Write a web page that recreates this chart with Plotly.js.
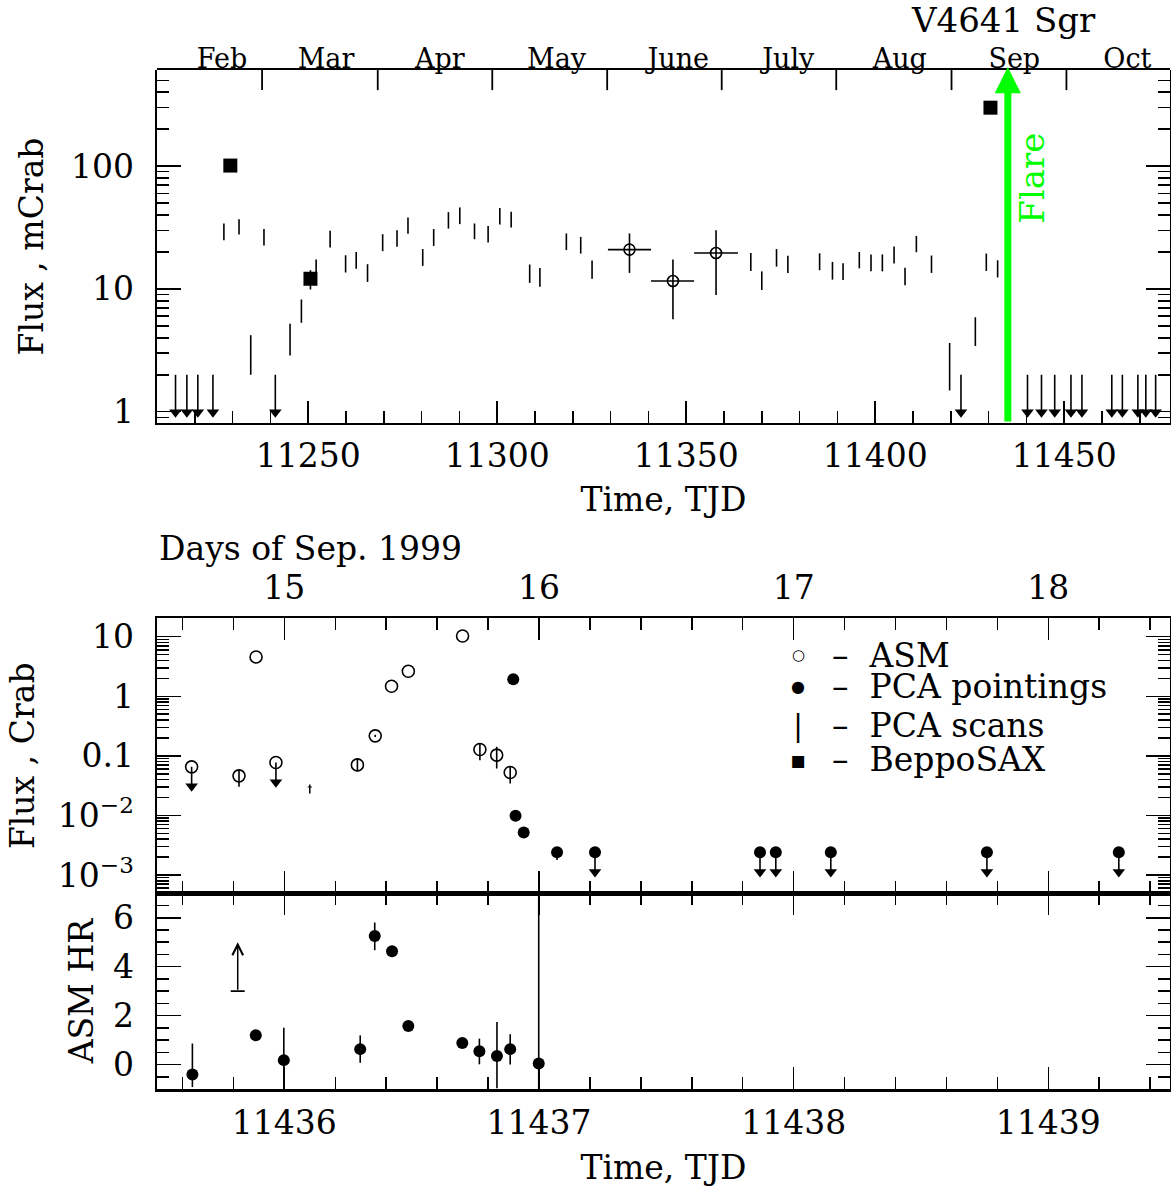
<!DOCTYPE html>
<html><head><meta charset="utf-8">
<script src="https://cdn.plot.ly/plotly-3.0.1.min.js"></script>
<style>body{margin:0;background:#fff}#chart{width:1171px;height:1187px}</style>
</head><body><div id="chart"></div>
<script>
// ===== Top panel: long-term light curve (TJD, mCrab) =====
const scanT  = [11227.7,11231.7,11234.8,11238.3,11245.2,11248.2,11252.1,11255.8,11259.9,11262.7,11265.7,11269.7,11273.5,11276.4,11280.3,11283.2,11287.1,11290.1,11294.0,11297.6,11300.7,11303.7,11308.6,11311.3,11318.3,11322.1,11325.1,11367.1,11370.0,11373.9,11376.9,11385.3,11388.7,11391.5,11395.8,11398.9,11401.9,11405.0,11407.9,11410.9,11414.9,11419.7,11426.5,11429.4,11432.4];
const scanHi = [34.1,37.0,4.2,30.7,5.2,8.2,17.4,29.7,18.8,20.0,15.9,27.9,30.1,38.2,21.1,30.7,42.2,46.1,34.1,32.6,45.5,42.4,15.8,14.8,28.3,26.5,17.0,19.6,13.9,21.1,18.6,19.5,16.6,16.2,20.0,19.1,19.1,22.2,14.9,27.0,18.7,3.63,5.88,19.4,17.1];
const scanLo = [24.9,27.8,2.0,22.6,2.87,5.3,11.9,21.7,13.6,14.6,11.4,20.3,22.0,28.1,15.4,22.4,31.0,33.7,25.4,23.9,33.5,31.7,11.2,10.4,20.7,19.4,12.1,14.0,9.8,15.2,13.5,14.2,11.9,11.8,14.7,13.9,13.9,16.1,10.7,19.9,13.5,1.49,3.43,14.0,12.4];
const saxT  = [11229.4, 11250.6, 11430.5];
const saxF  = [101, 12.1, 299];
const saxHi = [104, 14.2, 305];
const saxLo = [91, 9.9, 292];
const asmT   = [11335.0, 11346.5, 11357.9];
const asmF   = [20.9, 11.6, 19.6];
const asmHi  = [28.3, 17.4, 30.1];
const asmLo  = [13.5, 5.66, 8.93];
const asmTlo = [11329.3, 11340.7, 11352.1];
const asmThi = [11340.7, 11352.1, 11363.7];
const ulT   = [11214.9,11217.9,11220.8,11224.8,11241.3,11422.7,11440.3,11444.0,11447.5,11451.8,11454.7,11462.6,11465.4,11469.5,11471.6,11474.2];
const ulF   = [2.0,2.0,2.0,2.0,2.0,2.0,2.0,2.0,2.0,2.0,2.0,2.0,2.0,2.0,2.0,2.0];
const ulTip = [0.99,0.99,0.99,0.99,0.99,0.99,0.99,0.99,0.99,0.99,0.99,0.99,0.99,0.99,0.99,0.99];
const flareT = 11435.1, flareFrom = 0.81, flareTo = 640, flareLabelT = 11441.4, flareLabelF = 80;
const months    = ['Feb','Mar','Apr','May','June','July','Aug','Sep','Oct'];
const monthMid  = [11227.2,11254.7,11284.8,11315.7,11347.9,11377.0,11406.5,11436.8,11466.7];
const monthEdge = [11237.8,11268.4,11298.7,11329.1,11359.4,11389.7,11420.2,11450.6];

// ===== Middle panel: flare (TJD, Crab) =====
const mAsmT  = [11435.822,11435.889,11436.287,11436.357,11436.421,11436.487,11436.700,11436.768,11436.834,11436.887];
const mAsmF  = [0.0462,4.58,0.0706,0.217,1.476,2.64,10.3,0.128,0.103,0.0526];
const mAsmHi = [0.0598,4.58,0.0904,0.226,1.476,2.64,10.3,0.165,0.1416,0.0672];
const mAsmLo = [0.0302,4.58,0.0553,0.208,1.476,2.64,10.3,0.0847,0.0615,0.0344];
const mAsmUlT   = [11435.636, 11435.967];
const mAsmUlF   = [0.0654, 0.0775];
const mAsmUlTip = [0.031, 0.0362];
const pcaT  = [11436.899,11436.908,11436.940,11437.071];
const pcaF  = [1.94,0.00985,0.00519,0.00242];
const pcaHi = [1.94,0.00985,0.00519,0.00262];
const pcaLo = [1.94,0.00985,0.00519,0.00178];
const pcaUlT   = [11437.220,11437.868,11437.930,11438.146,11438.759,11439.277];
const pcaUlF   = [0.0024,0.0024,0.0024,0.0024,0.0024,0.0024];
const pcaUlTip = [0.00112,0.00112,0.00112,0.00112,0.00112,0.00112];
const mScanT = [11436.10], mScanF = [0.0300], mScanHi = [0.0331], mScanLo = [0.0234], mScanTerr = [0.008];
const dayT = [11436, 11437, 11438, 11439];
const dayLabels = ['15','16','17','18'];

// ===== Bottom panel: ASM hardness ratio =====
const hrT  = [11435.639,11435.888,11435.998,11436.298,11436.355,11436.423,11436.487,11436.699,11436.766,11436.835,11436.887,11436.999];
const hrV  = [-0.41,1.20,0.18,0.63,5.25,4.63,1.58,0.88,0.54,0.35,0.63,0.04];
const hrHi = [0.86,1.20,1.50,1.19,5.81,4.63,1.58,0.88,1.06,1.74,1.24,12];
const hrLo = [-0.92,1.20,-1.2,0.07,4.67,4.63,1.58,0.88,0.01,-0.97,0.0,-12];
const hrLimT = 11435.817, hrLimFrom = 3.0, hrLimTo = 5.0;

// legend labels
const legendSymbols = ['\u25CB','\u25CF','|','\u25AA'];
const legendNames = ['ASM','PCA pointings','PCA scans','BeppoSAX'];

const FONT = 'DejaVu Serif';
const sub = (a,b)=>a.map((v,i)=>v-b[i]);
const zeros = n => new Array(n).fill(0);
const scanMid = scanT.map((t,i)=>Math.sqrt(scanHi[i]*scanLo[i]));
const clear = 'rgba(0,0,0,0)';
const eb = (plus, minus, w, th) => ({type:'data', symmetric:false, array:plus, arrayminus:minus, width:w||0, thickness:th||1.6, color:'black'});

const traces = [
  // top
  {x:scanT, y:scanMid, xaxis:'x', yaxis:'y', mode:'markers', marker:{size:1,color:clear},
   error_y: eb(sub(scanHi,scanMid), sub(scanMid,scanLo))},
  {x:asmT, y:asmF, xaxis:'x', yaxis:'y', mode:'markers',
   marker:{symbol:'circle-open', size:11, color:'black', line:{width:1.6,color:'black'}},
   error_y: eb(sub(asmHi,asmF), sub(asmF,asmLo)), error_x: eb(sub(asmThi,asmT), sub(asmT,asmTlo))},
  {x:saxT, y:saxF, xaxis:'x', yaxis:'y', mode:'markers', marker:{symbol:'square', size:14, color:'black'},
   error_y: eb(sub(saxHi,saxF), sub(saxF,saxLo))},
  {x:ulT, y:ulF, xaxis:'x', yaxis:'y', mode:'markers', marker:{size:1,color:clear},
   error_y: eb(zeros(ulT.length), sub(ulF,ulTip))},
  {x:ulT, y:ulTip, xaxis:'x', yaxis:'y', mode:'markers', marker:{symbol:'triangle-down', size:11, color:'black'}},
  // middle
  {x:mScanT, y:mScanF, xaxis:'x2', yaxis:'y2', mode:'markers', marker:{size:1,color:clear},
   error_y: eb(sub(mScanHi,mScanF), sub(mScanF,mScanLo), 0, 1.5), error_x: eb(mScanTerr, mScanTerr, 0, 1.2)},
  {x:mAsmT, y:mAsmF, xaxis:'x2', yaxis:'y2', mode:'markers',
   marker:{symbol:'circle-open', size:12, color:'black', line:{width:1.6,color:'black'}},
   error_y: eb(sub(mAsmHi,mAsmF), sub(mAsmF,mAsmLo))},
  {x:mAsmUlT, y:mAsmUlF, xaxis:'x2', yaxis:'y2', mode:'markers',
   marker:{symbol:'circle-open', size:12, color:'black', line:{width:1.6,color:'black'}},
   error_y: eb(zeros(mAsmUlT.length), sub(mAsmUlF,mAsmUlTip))},
  {x:mAsmUlT, y:mAsmUlTip, xaxis:'x2', yaxis:'y2', mode:'markers', marker:{symbol:'triangle-down', size:11, color:'black'}},
  {x:pcaT, y:pcaF, xaxis:'x2', yaxis:'y2', mode:'markers', marker:{symbol:'circle', size:12, color:'black'},
   error_y: eb(sub(pcaHi,pcaF), sub(pcaF,pcaLo))},
  {x:pcaUlT, y:pcaUlF, xaxis:'x2', yaxis:'y2', mode:'markers', marker:{symbol:'circle', size:12, color:'black'},
   error_y: eb(zeros(pcaUlT.length), sub(pcaUlF,pcaUlTip))},
  {x:pcaUlT, y:pcaUlTip, xaxis:'x2', yaxis:'y2', mode:'markers', marker:{symbol:'triangle-down', size:11, color:'black'}},
  // bottom
  {x:hrT, y:hrV, xaxis:'x3', yaxis:'y3', mode:'markers', marker:{symbol:'circle', size:12, color:'black'},
   error_y: eb(sub(hrHi,hrV), sub(hrV,hrLo))},
  {x:[hrLimT], y:[hrLimFrom], xaxis:'x3', yaxis:'y3', mode:'markers',
   marker:{symbol:'line-ew', size:10, color:'black', line:{width:1.6,color:'black'}}},
  // invisible anchors so the month-label axis and the day axis get drawn
  {x:monthMid, y:monthMid.map(()=>0.5), xaxis:'x5', yaxis:'y4', mode:'markers', marker:{size:1, color:clear}, hoverinfo:'skip'},
  {x:dayT, y:dayT.map(()=>1), xaxis:'x6', yaxis:'y2', mode:'markers', marker:{size:1, color:clear}, hoverinfo:'skip'}
];

function decadeMinors(lo, hi){ const v=[]; for(let k=lo;k<=hi;k++){ for(let m=2;m<=9;m++) v.push(m*Math.pow(10,k)); } return v; }

const tickFont = {family:FONT, size:33, color:'black'};
const common = {showline:true, linecolor:'black', linewidth:2.5, showgrid:false, zeroline:false,
  ticks:'inside', tickcolor:'black', tickwidth:1.5, tickfont:tickFont};

const layout = {
  width:1171, height:1187, paper_bgcolor:'white', plot_bgcolor:'rgba(0,0,0,0)', showlegend:false,
  margin:{l:157, r:1, t:70, b:98},
  font:{family:FONT, color:'black'},
  xaxis: Object.assign({}, common, {domain:[0,1], anchor:'y', range:[11210,11478], tick0:11250, dtick:50, ticklen:22,
    tickformat:'d',
    minor:{ticks:'inside', dtick:10, ticklen:12, tickwidth:1.5, tickcolor:'black', showgrid:false},
    ticklabelstandoff:2,
    title:{text:'Time, TJD', font:{family:FONT, size:33}, standoff:14}}),
  // top edge of panel 1 with month names
  xaxis5: {type:'linear', domain:[0,1], anchor:'y4', side:'top', range:[11210,11478], tickmode:'array', tickvals:monthMid,
    ticktext:months, ticks:'', showline:true, linecolor:'black', linewidth:2.5, showgrid:false, zeroline:false,
    tickfont:{family:FONT, size:27, color:'black'}, ticklabelstandoff:-11},
  yaxis4: {type:'linear', domain:[0.9995,1], anchor:'x5', range:[0,1], showline:false, showticklabels:false, ticks:'',
    showgrid:false, zeroline:false},
  yaxis: Object.assign({}, common, {domain:[0.6536,1], anchor:'x', type:'log', range:[Math.log10(0.81), Math.log10(606)],
    tickmode:'array', tickvals:[1,10,100], ticktext:['1','10','100'], ticklen:24, mirror:'ticks',
    minor:{ticks:'inside', tickmode:'array', tickvals:decadeMinors(-1,2), ticklen:12, tickwidth:1.5, tickcolor:'black', showgrid:false},
    ticklabelstandoff:14,
    title:{text:'Flux , mCrab', font:{family:FONT, size:33}, standoff:18}}),

  xaxis2: Object.assign({}, common, {domain:[0,1], anchor:'y2', range:[11435.5,11439.478], tick0:11436, dtick:1, ticklen:22,
    mirror:'ticks', showticklabels:false,
    minor:{ticks:'inside', dtick:0.2, ticklen:12, tickwidth:1.5, tickcolor:'black', showgrid:false}}),
  xaxis6: {type:'linear', overlaying:'x2', anchor:'y2', side:'top', range:[11435.5,11439.478], tickmode:'array', tickvals:dayT,
    ticktext:dayLabels, ticks:'', showline:false, showgrid:false, zeroline:false, tickfont:tickFont, ticklabelstandoff:12},
  yaxis2: Object.assign({}, common, {domain:[0.19205,0.46192], anchor:'x2', type:'log', range:[Math.log10(4.93e-4), Math.log10(20.4)],
    tickmode:'array', tickvals:[0.001,0.01,0.1,1,10], ticktext:['10<sup>\u22123</sup>','10<sup>\u22122</sup>','0.1','1','10'],
    ticklen:24, mirror:'ticks',
    minor:{ticks:'inside', tickmode:'array', tickvals:decadeMinors(-4,1), ticklen:12, tickwidth:1.5, tickcolor:'black', showgrid:false},
    ticklabelstandoff:14,
    title:{text:'Flux , Crab', font:{family:FONT, size:33}, standoff:14}}),

  xaxis3: Object.assign({}, common, {domain:[0,1], anchor:'y3', range:[11435.5,11439.478], tick0:11436, dtick:1, ticklen:22,
    tickformat:'d', mirror:'ticks', ticklabelstandoff:3,
    minor:{ticks:'inside', dtick:0.2, ticklen:12, tickwidth:1.5, tickcolor:'black', showgrid:false},
    title:{text:'Time, TJD', font:{family:FONT, size:33}, standoff:16}}),
  yaxis3: Object.assign({}, common, {domain:[0,0.19205], anchor:'x3', range:[-1,7], tick0:0, dtick:2, ticklen:24, mirror:'ticks',
    minor:{ticks:'inside', dtick:0.5, ticklen:12, tickwidth:1.5, tickcolor:'black', showgrid:false},
    ticklabelstandoff:14,
    title:{text:'ASM HR', font:{family:FONT, size:33}, standoff:10}}),

  // month-boundary tick marks hanging from the top edge of panel 1
  shapes: monthEdge.map(t => ({type:'line', xref:'x', yref:'y domain', x0:t, x1:t, y0:1, y1:0.943,
    line:{color:'black', width:1.8}, layer:'above'})),

  annotations: [
    {xref:'x', yref:'y', axref:'x', ayref:'y', x:flareT, y:Math.log10(flareTo), ax:flareT, ay:Math.log10(flareFrom),
     text:'', showarrow:true, arrowhead:2, arrowsize:0.75, arrowwidth:7, arrowcolor:'#00ff00'},
    {xref:'x', yref:'y', x:flareLabelT, y:Math.log10(flareLabelF), text:'Flare', textangle:-90, showarrow:false,
     font:{family:FONT, size:34, color:'#00ff00'}},
    {xref:'x3', yref:'y3', axref:'x3', ayref:'y3', x:hrLimT, y:hrLimTo, ax:hrLimT, ay:hrLimFrom,
     text:'', showarrow:true, arrowhead:5, arrowsize:1.4, arrowwidth:1.5, arrowcolor:'black'},
    {xref:'paper', yref:'paper', x:0.8361, y:1.0491, text:'V4641 Sgr', showarrow:false, xanchor:'center', yanchor:'middle',
     font:{family:FONT, size:34, color:'black'}},
    {xref:'paper', yref:'paper', x:0, y:0.5309, text:'Days of Sep. 1999', showarrow:false, xanchor:'left', yanchor:'middle',
     font:{family:FONT, size:33, color:'black'}}
  ]
};

const legY = [0.4259, 0.3948, 0.3572, 0.3229];
const symSizes = [15, 16, 30, 24];
const symFonts = ['DejaVu Sans','DejaVu Sans', FONT, 'DejaVu Sans'];
legendNames.forEach((n,i)=>{
  layout.annotations.push({xref:'paper', yref:'paper', x:0.6328, y:legY[i], text:legendSymbols[i], showarrow:false,
    xanchor:'center', yanchor:'middle', font:{family:symFonts[i], size:symSizes[i], color:'black'}});
  layout.annotations.push({xref:'paper', yref:'paper', x:0.6640, y:legY[i], text:'\u2013  '+n, showarrow:false,
    xanchor:'left', yanchor:'middle', font:{family:FONT, size:33, color:'black'}});
});

Plotly.newPlot('chart', traces, layout, {displayModeBar:false, staticPlot:true});
</script></body></html>
